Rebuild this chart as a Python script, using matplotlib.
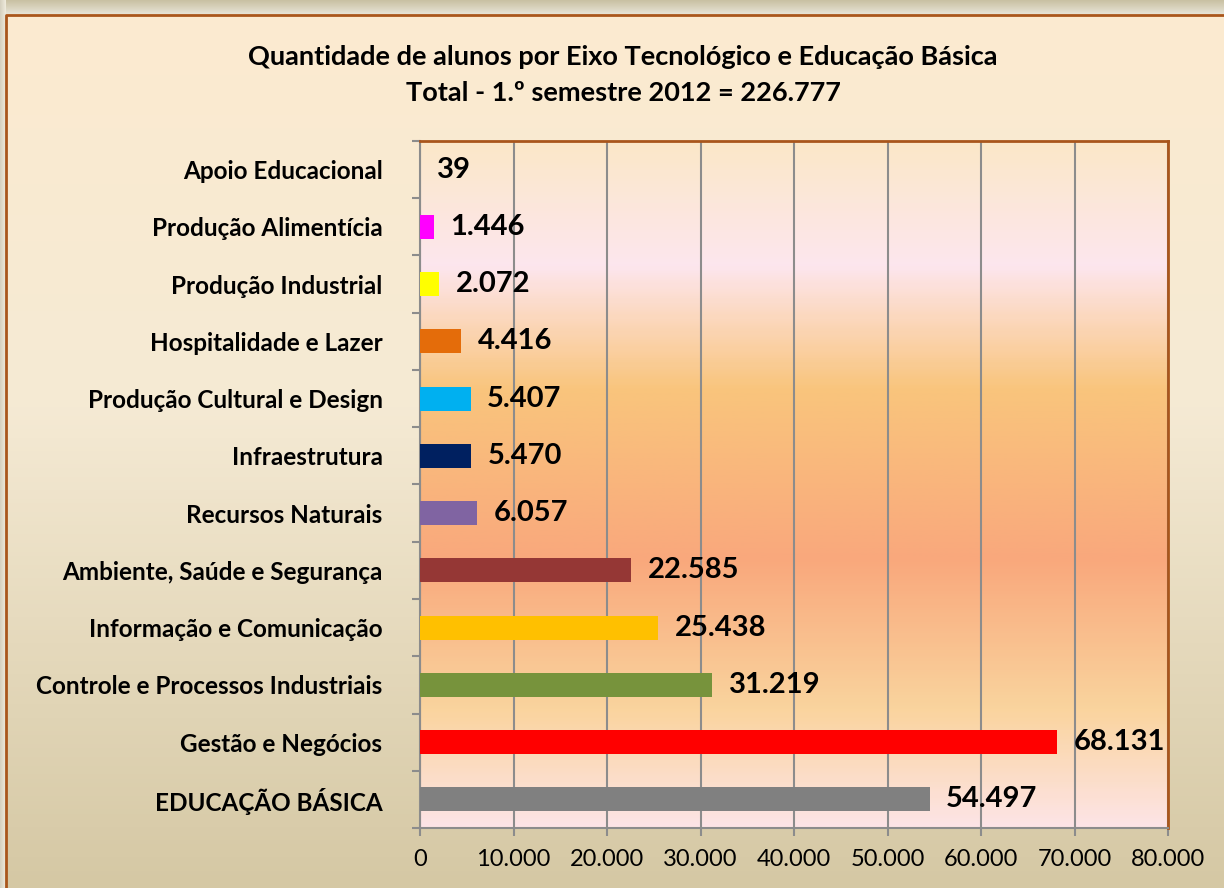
import numpy as np
import matplotlib.pyplot as plt
import matplotlib.colors as mcolors
from matplotlib.ticker import FuncFormatter, FixedLocator

# data, bottom to top as drawn
categories = ["EDUCAÇÃO BÁSICA", "Gestão e Negócios", "Controle e Processos Industriais",
              "Informação e Comunicação", "Ambiente, Saúde e Segurança", "Recursos Naturais",
              "Infraestrutura", "Produção Cultural e Design", "Hospitalidade e Lazer",
              "Produção Industrial", "Produção Alimentícia", "Apoio Educacional"]
values = [54497, 68131, 31219, 25438, 22585, 6057, 5470, 5407, 4416, 2072, 1446, 39]
colors = ["#808080", "#FF0000", "#77933C", "#FFC000", "#953735", "#8064A2",
          "#002060", "#00B0F0", "#E46C0A", "#FFFF00", "#FF00FF", "#4F81BD"]
title = "Quantidade de alunos por Eixo Tecnológico e Educação Básica\nTotal - 1.º semestre 2012 = 226.777"

plt.rcParams['font.family'] = ['Lato', 'DejaVu Sans']

def br(v, pos=None):
    # thousands separator with a dot
    return f"{int(v):,}".replace(",", ".")

fig = plt.figure(figsize=(12.24, 8.88), dpi=100)
fig.patch.set_facecolor("#DAD4BE")

# background panel with its gradient
bg = fig.add_axes([0, 0, 1, 1])
bg.set_xlim(0, 1224)
bg.set_ylim(888, 0)
bg.axis("off")
shadow = mcolors.LinearSegmentedColormap.from_list("sh", ["#C9C1A3", "#E9E5D8"])
bg.imshow(np.linspace(0, 1, 20).reshape(-1, 1), cmap=shadow, aspect="auto",
          extent=[0, 1224, 15, 0], zorder=0)
bg.imshow(np.linspace(0, 1, 20).reshape(1, -1), cmap=mcolors.LinearSegmentedColormap.from_list(
    "sl", ["#D5D0BE", "#EFEBDD"]), aspect="auto", extent=[0, 6, 888, 0], zorder=0)
panel = mcolors.LinearSegmentedColormap.from_list(
    "panel", [(0, "#FCEBD0"), (0.45, "#F5EAD4"), (1, "#D5C8A4")])
bg.imshow(np.linspace(0, 1, 200).reshape(-1, 1), cmap=panel, aspect="auto",
          extent=[6, 1224, 888, 15], zorder=1)
bg.plot([6, 6, 1224], [888, 15, 15], color="#A9561C", lw=2, zorder=2)

ax = fig.add_axes([420 / 1224, 1 - 828 / 888, 748 / 1224, 687 / 888])
plot_bg = mcolors.LinearSegmentedColormap.from_list(
    "plotbg", [(0, "#FBE8C8"), (0.18, "#FDE6EE"), (0.36, "#F9C57D"),
               (0.61, "#F9A87C"), (0.83, "#FAD49E"), (1, "#FDE4E6")])
ax.imshow(np.linspace(0, 1, 300).reshape(-1, 1), cmap=plot_bg, aspect="auto",
          extent=[0, 80000, -0.5, len(categories) - 0.5], zorder=0)

y = np.arange(len(categories))
ax.barh(y, values, height=0.42, color=colors, zorder=3)
for yi, v in zip(y, values):
    ax.annotate(br(v), (v, yi), xytext=(12, 0), textcoords="offset points",
                va="center", ha="left", fontsize=21, fontweight="bold", zorder=4)

ax.set_xlim(0, 80000)
ax.set_ylim(-0.5, len(categories) - 0.5)
ax.set_xticks(np.arange(0, 80001, 10000))
ax.xaxis.set_major_formatter(FuncFormatter(br))
ax.xaxis.grid(True, color="#8C8C8C", lw=1.5, zorder=1)
ax.set_axisbelow(True)
ax.tick_params(axis="x", direction="out", length=6, width=1.5, color="#8C8C8C",
               labelsize=17, pad=9)

ax.set_yticks(y)
ax.set_yticklabels(categories, fontsize=17.5, fontweight="bold")
ax.yaxis.set_minor_locator(FixedLocator(np.arange(-0.5, len(categories), 1)))
ax.tick_params(axis="y", which="major", length=0, pad=27)
ax.tick_params(axis="y", which="minor", direction="out", length=6, width=1.5, color="#8C8C8C")

for s in ["left", "bottom"]:
    ax.spines[s].set_color("#8C8C8C")
    ax.spines[s].set_linewidth(1.5)
for s in ["top", "right"]:
    ax.spines[s].set_color("#A9561C")
    ax.spines[s].set_linewidth(2)

fig.text(0.509, 0.915, title, ha="center", va="center", fontsize=19.5,
         fontweight="bold", linespacing=1.6)

fig.savefig("out.png", dpi=100)
